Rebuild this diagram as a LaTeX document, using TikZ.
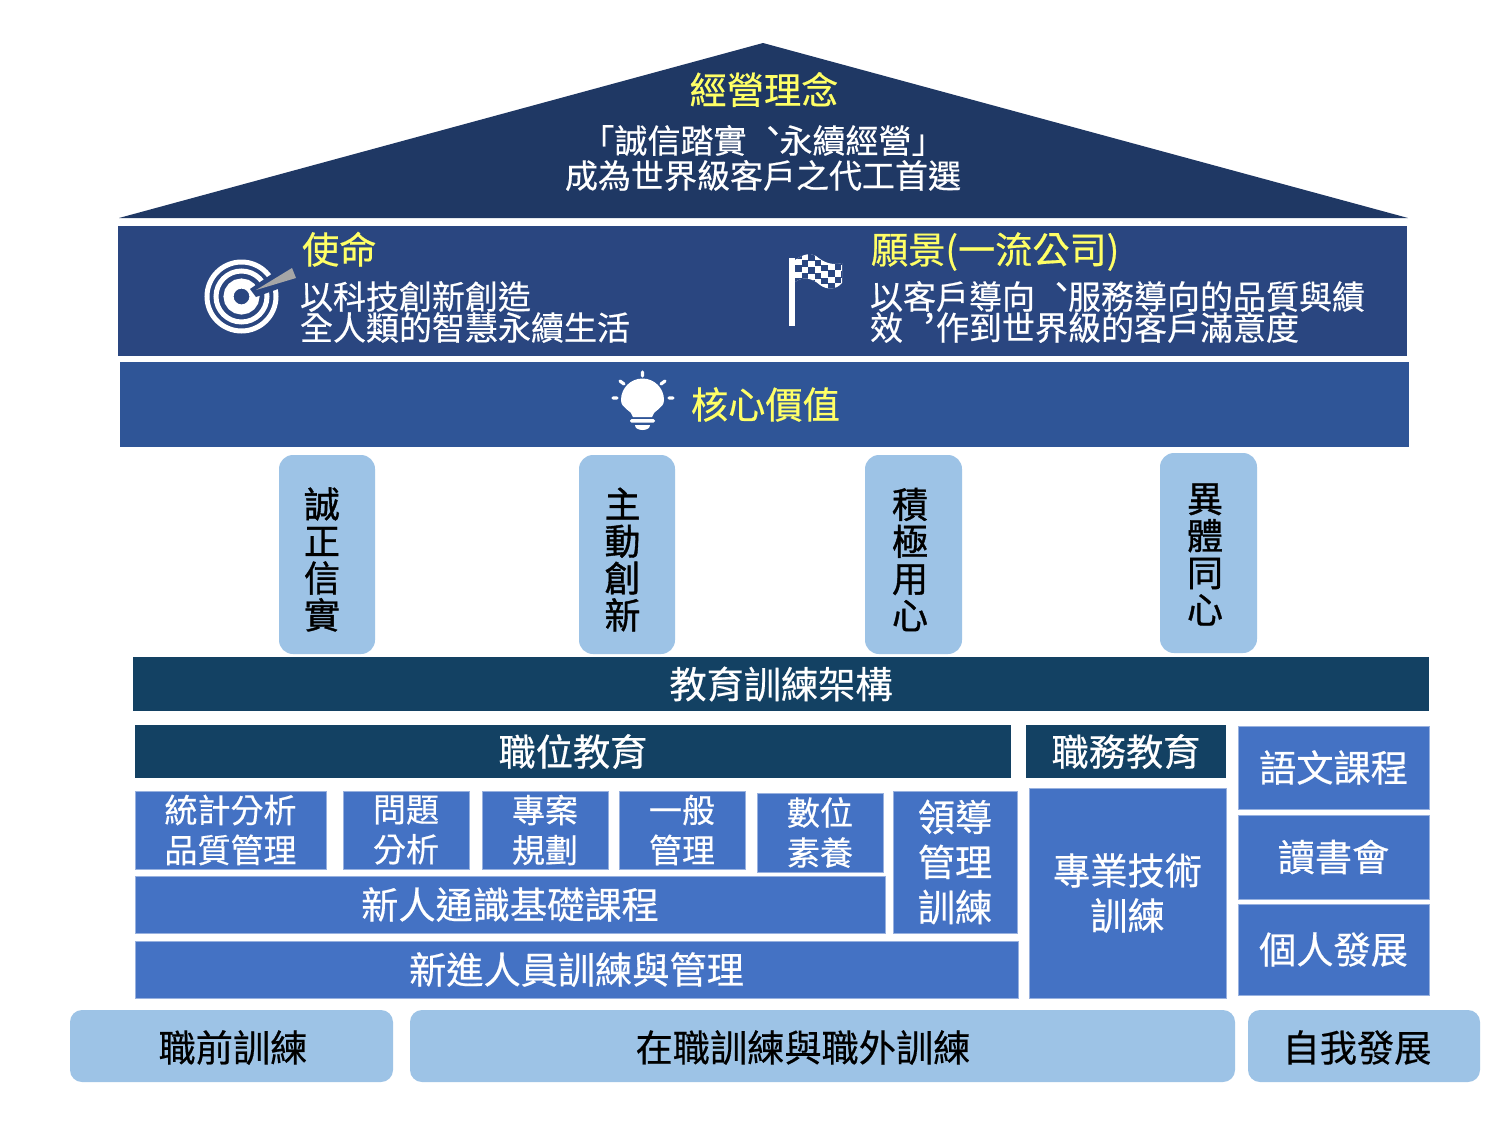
\documentclass[tikz,border=0pt]{standalone}
\usepackage{fontspec}
\setmainfont[Script=CJK,Language=Chinese Traditional,RawFeature={embolden=0.5}]{Noto Sans CJK TC}
\newfontfamily\vertfont[Script=CJK,Language=Chinese Traditional,RawFeature={embolden=1.0}]{Noto Sans CJK TC}
\definecolor{roofc}{HTML}{1F3864}
\definecolor{missionc}{HTML}{2A4680}
\definecolor{corec}{HTML}{2F5597}
\definecolor{pillarc}{HTML}{9DC3E6}
\definecolor{bannerc}{HTML}{134163}
\definecolor{boxc}{HTML}{4472C4}
\definecolor{yellowt}{HTML}{FFFF66}
\newcommand{\szA}{\fontsize{37.2}{37}\selectfont}
\newcommand{\szB}{\fontsize{33}{31}\selectfont}
\newcommand{\szC}{\fontsize{33}{40}\selectfont}
\newcommand{\szD}{\fontsize{37.2}{45}\selectfont}
\newcommand{\szV}{\vertfont\fontsize{36}{37}\selectfont}
\newcommand{\cpunct}[1]{\makebox[1em][l]{\hspace{0.3em}\raisebox{0.3em}{#1}}}
\newcommand{\rbox}[7]{\node[#2,minimum width={(#5-#3)*1pt},minimum height={(#6-#4)*1pt}] (#1) at ({(#3+#5)/2},{(#4+#6)/2}) {#7};}
\tikzset{
  base/.style={inner sep=0pt,outer sep=0pt,align=center,text=white},
  darkband/.style={base,fill=bannerc,font=\szA},
  bluebox/.style={base,fill=boxc,draw=boxc!55,line width=0.6pt,font=\szC},
  bigbox/.style={base,fill=boxc,draw=boxc!55,line width=0.6pt,font=\szD},
  pillar/.style={base,fill=pillarc,rounded corners=14pt},
  foot/.style={base,fill=pillarc,rounded corners=12pt},
  foottext/.style={inner sep=0pt,outer sep=0pt,text=black,font=\szA},
  txt/.style={inner sep=0pt,outer sep=0pt,align=left,text=white},
  ctxt/.style={txt,align=center},
  head/.style={txt,text=yellowt,font=\szA},
  vert/.style={inner sep=0pt,outer sep=0pt,align=center,text=black,font=\szV}
}
\begin{document}
\begin{tikzpicture}[x=1pt,y=-1pt]
\useasboundingbox (0,0) rectangle (1500,1125);
\fill[white] (0,0) rectangle (1500,1125);
% roof
\fill[roofc] (763,43) -- (1408,218) -- (119,218) -- cycle;
\node[head,anchor=center] (roofhead) at (764,89.5) {經營理念};
\node[ctxt,font=\fontsize{33}{35}\selectfont,anchor=center] (rooftext) at (763,158) {「誠信踏實\cpunct{、}永續經營」\\成為世界級客戶之代工首選};
% mission band
\rbox{mission}{base,fill=missionc}{118}{226}{1407}{356}{}
\node[head,anchor=base west] (missionhead) at (302,263.5) {使命};
\node[txt,font=\szB,anchor=west] (missiontext) at (300,312) {以科技創新創造\\全人類的智慧永續生活};
\node[head,anchor=base west] (visionhead) at (871,263.5) {願景(一流公司)};
\node[txt,font=\szB,anchor=west] (visiontext) at (870,312) {以客戶導向\cpunct{、}服務導向的品質與績\\效\cpunct{，}作到世界級的客戶滿意度};
% target icon
\begin{scope}[shift={(241.5,296.5)}]
  \draw[white,line width=5pt] (0,0) circle (34.5);
  \draw[white,line width=5pt] (0,0) circle (25.5);
  \draw[white,line width=10pt] (0,0) circle (13);
\end{scope}
\fill[missionc] (250,289) -- (289,262) -- (300,281) -- (256,297) -- cycle;
\fill[black!35] (256,290) -- (292,268) -- (296,278) -- cycle;
% flag icon
\fill[white] (789,258) rectangle (795,326);
\begin{scope}
  \clip (795,260) .. controls (802,255) and (810,252) .. (816,256) .. controls (823,262) and (832,266) .. (842,263) -- (842,283) .. controls (836,290) and (827,290) .. (820,285) .. controls (812,278) and (803,276) .. (795,282) -- cycle;
  \fill[white] (790,250) rectangle (845,295);
  \foreach \i in {0,...,7} \foreach \j in {0,...,6} {
    \pgfmathparse{int(mod(\i+\j,2))}
    \ifnum\pgfmathresult=0
      \fill[missionc] ({795+\i*6.6},{252+\j*6.6+2*sin(\i*50)}) rectangle ++(6.6,6.6);
    \fi
  }
\end{scope}
% core band
\rbox{core}{base,fill=corec}{120}{362}{1409}{447}{}
\node[head,anchor=west] (corehead) at (691,404.5) {核心價值};
% bulb icon
\fill[white] (633,417) .. controls (632,410) and (621,409) .. (621,400) arc[start angle=180,end angle=360,radius=21.5] .. controls (664,409) and (653,410) .. (652,417) -- cycle;
\fill[white,rounded corners=1.5pt] (630,419) rectangle (655,422.5);
\fill[white] (635,425) -- (650,425) .. controls (650,428) and (647,430) .. (642.5,430) .. controls (638,430) and (635,428) .. (635,425) -- cycle;
\draw[white,line width=3.2pt,line cap=round] (642.5,372) -- (642.5,376) (620,381) -- (624,384) (665,381) -- (661,384) (613,398) -- (617,398) (669,398) -- (673,398);
% pillars
\rbox{p1}{pillar}{279}{455}{375}{654}{}
\rbox{p2}{pillar}{579}{455}{675}{654}{}
\rbox{p3}{pillar}{865}{455}{962}{654}{}
\rbox{p4}{pillar}{1160}{453}{1257}{653}{}
\node[vert] (v1) at (322,559.5) {誠\\正\\信\\實};
\node[vert] (v2) at (622.5,559.5) {主\\動\\創\\新};
\node[vert] (v3) at (910,559.5) {積\\極\\用\\心};
\node[vert] (v4) at (1205,554.5) {異\\體\\同\\心};
% training
\rbox{banner}{darkband}{133}{657}{1429}{711}{教育訓練架構}
\rbox{job}{darkband}{135}{725}{1011}{778}{職位教育}
\rbox{duty}{darkband}{1026}{725}{1226}{778}{職務教育}
\rbox{lang}{bigbox}{1238}{726}{1429}{809}{語文課程}
\rbox{read}{bigbox}{1238}{815}{1429}{899}{讀書會}
\rbox{self}{bigbox}{1238}{904}{1429}{995}{個人發展}
\rbox{stat}{bluebox}{135}{791}{326}{869}{統計分析\\品質管理}
\rbox{prob}{bluebox}{343}{791}{469}{869}{問題\\分析}
\rbox{plan}{bluebox}{482}{791}{608}{869}{專案\\規劃}
\rbox{gen}{bluebox}{619}{791}{745}{869}{一般\\管理}
\rbox{digi}{bluebox}{757}{793}{883}{872}{數位\\素養}
\rbox{lead}{bigbox}{893}{791}{1017}{933}{領導\\管理\\訓練}
\rbox{newc}{bigbox}{135}{876}{885}{933}{新人通識基礎課程}
\rbox{newm}{bigbox}{135}{941}{1018}{998}{新進人員訓練與管理}
\rbox{tech}{bigbox}{1029}{788}{1226}{998}{專業技術\\訓練}
% foot
\rbox{f1}{foot}{70}{1010}{393}{1082}{}
\rbox{f2}{foot}{410}{1010}{1235}{1082}{}
\rbox{f3}{foot}{1248}{1010}{1480}{1082}{}
\node[foottext] (f1t) at (233,1047.5) {職前訓練};
\node[foottext] (f2t) at (803,1047.5) {在職訓練與職外訓練};
\node[foottext] (f3t) at (1357,1047.5) {自我發展};
\end{tikzpicture}
\end{document}
